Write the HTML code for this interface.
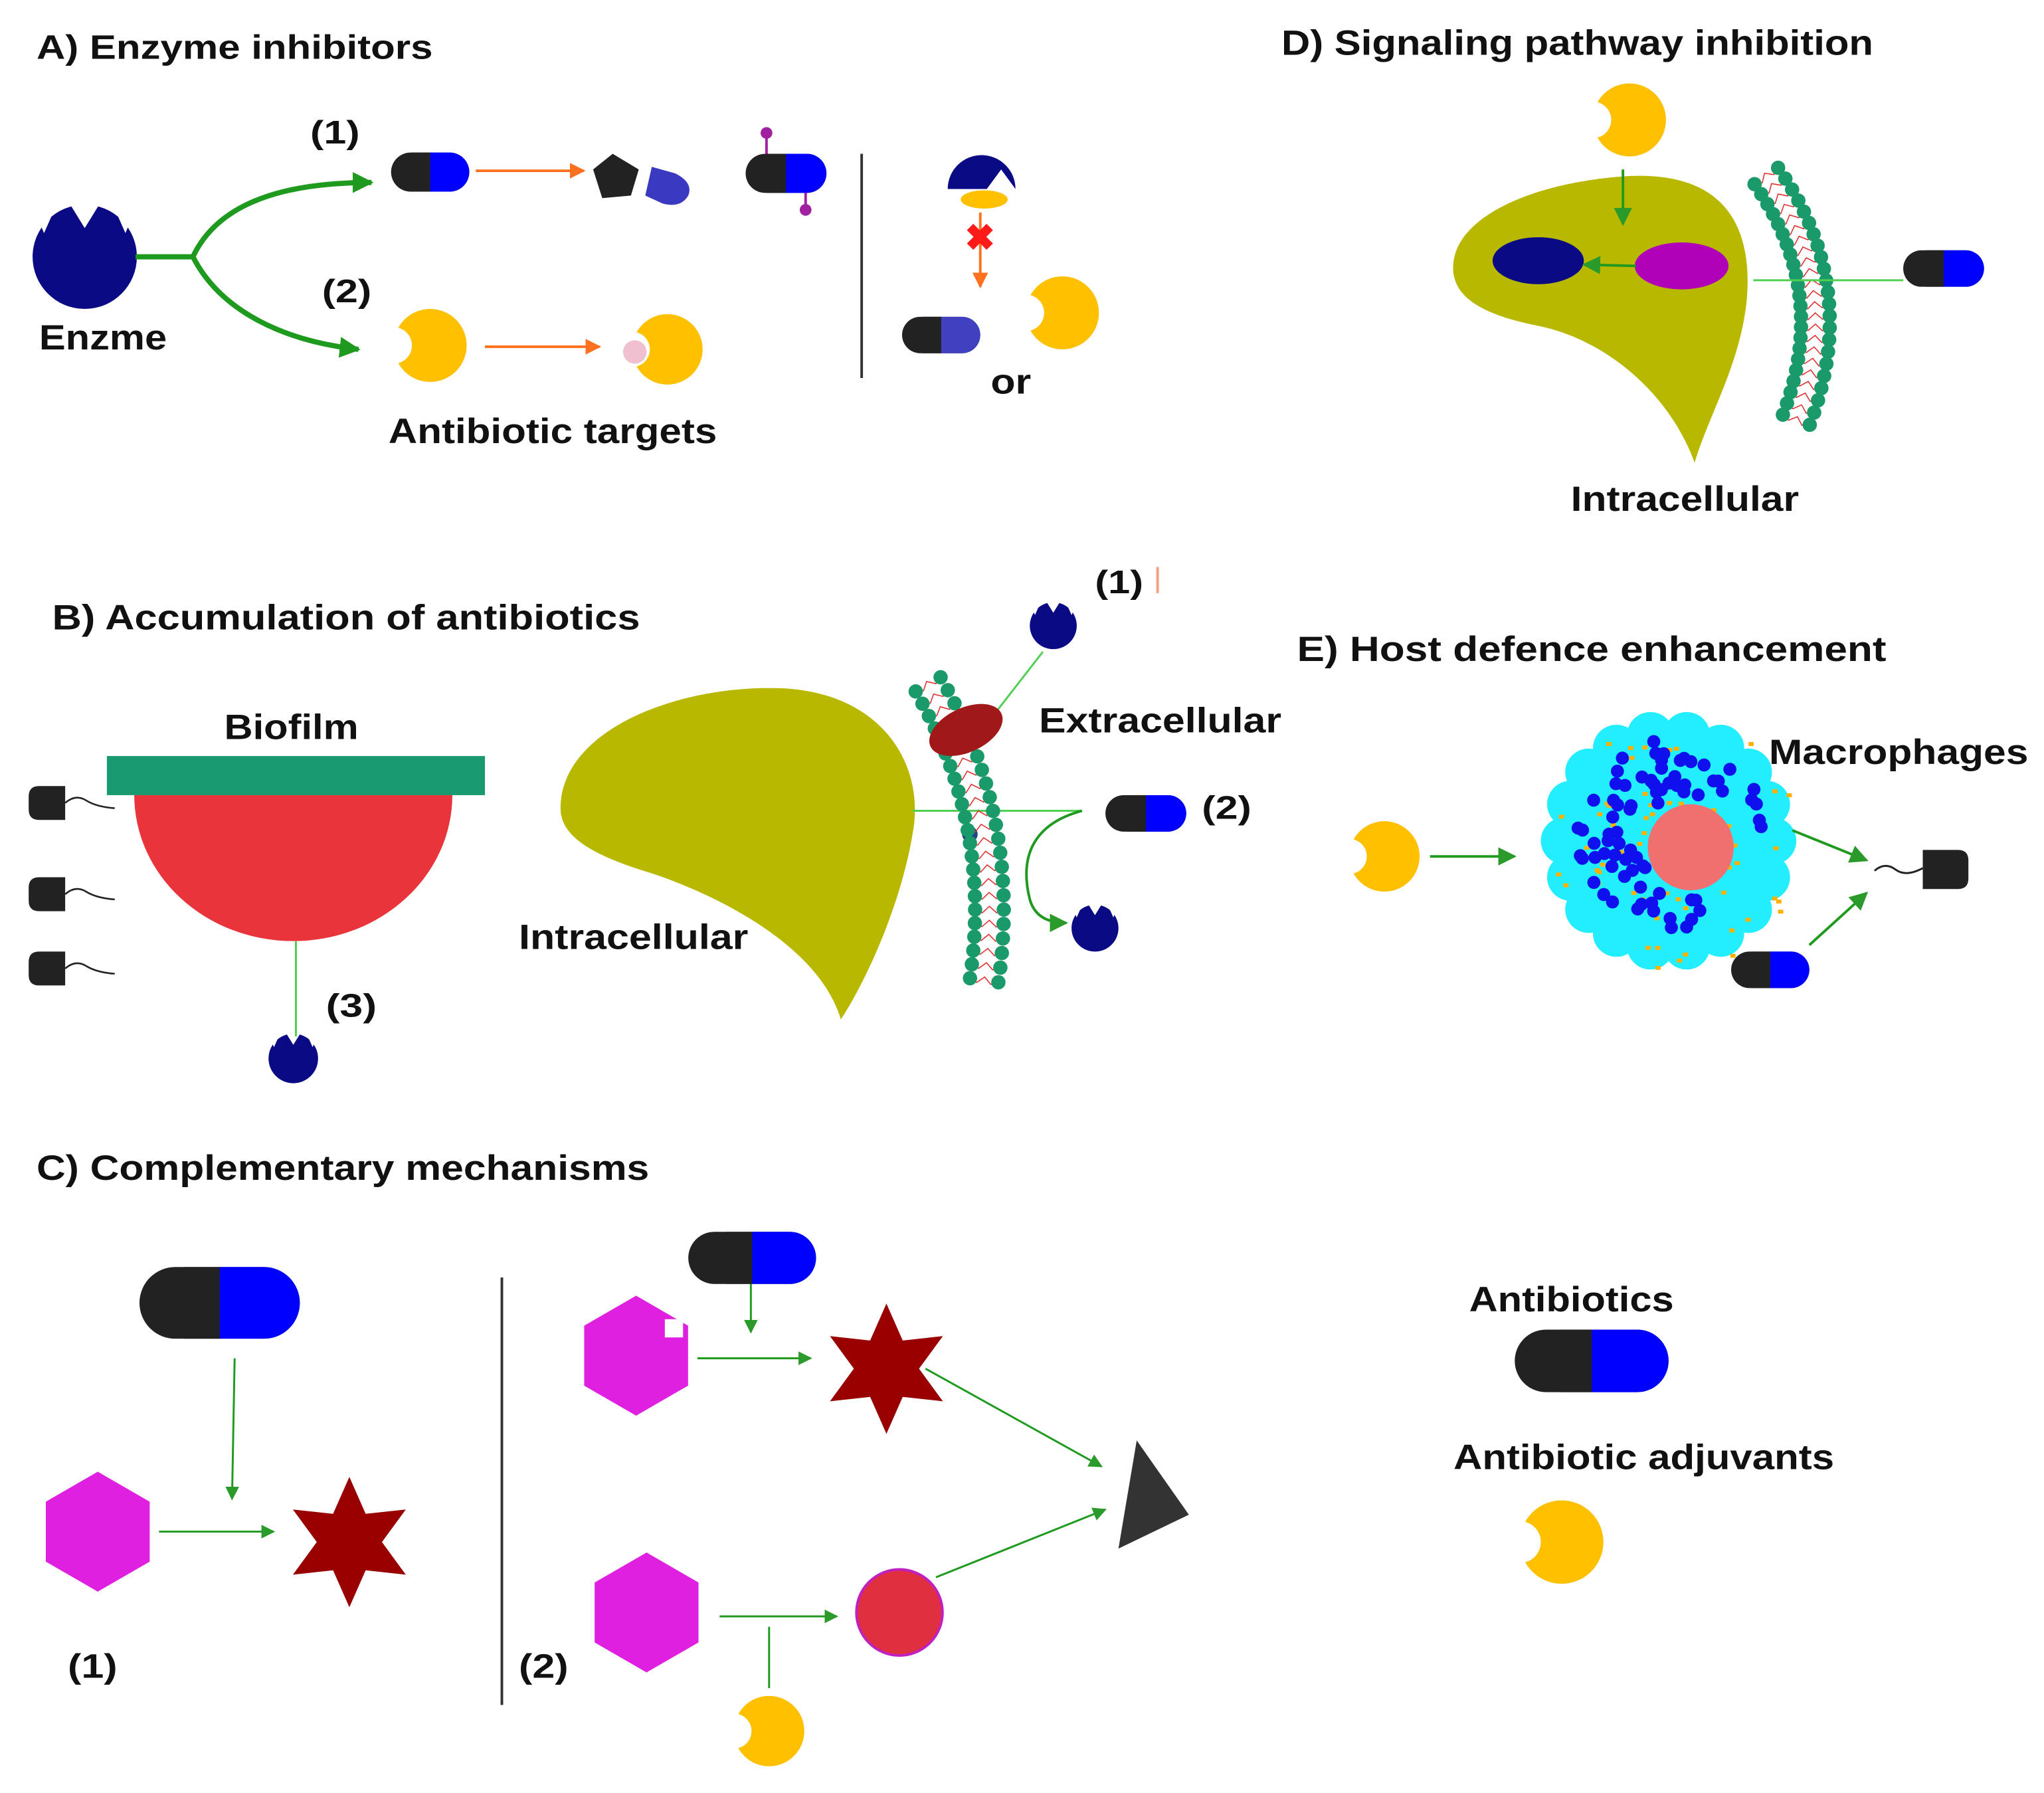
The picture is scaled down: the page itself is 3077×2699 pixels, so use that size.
<!DOCTYPE html>
<html><head><meta charset="utf-8">
<style>
html,body{margin:0;padding:0;background:#fff;}
svg{display:block;}
text{font-family:"Liberation Sans",Arial,sans-serif;font-weight:bold;fill:#111;}
</style></head>
<body>
<svg id="s" width="3077" height="2699" viewBox="0 0 1568 1375.5" preserveAspectRatio="none" xmlns="http://www.w3.org/2000/svg">
<defs>
<marker id="ga" viewBox="0 0 10 10" refX="9" refY="5" markerWidth="7" markerHeight="7" orient="auto"><path d="M0,0L10,5L0,10z" fill="#2a9a2a"/></marker>
<marker id="gA" viewBox="0 0 10 10" refX="9" refY="5" markerWidth="4" markerHeight="4" orient="auto"><path d="M0,0L10,5L0,10z" fill="#1f9a1f"/></marker>
<marker id="oa" viewBox="0 0 10 10" refX="9" refY="5" markerWidth="6" markerHeight="6" orient="auto"><path d="M0,0L10,5L0,10z" fill="#ff7020"/></marker>
</defs>
<rect width="1568" height="1376" fill="#fff"/>
<g id="content"></g>

<!-- ===== A ===== -->
<text x="28" y="45" font-size="26" textLength="304" lengthAdjust="spacingAndGlyphs">A) Enzyme inhibitors</text>
<text x="30" y="268" font-size="27" textLength="98" lengthAdjust="spacingAndGlyphs">Enzme</text>
<path d="M104,197 H148 C170,150 230,140 285,140" stroke="#1e9a1e" stroke-width="4" fill="none" marker-end="url(#gA)"/>
<path d="M148,197 C170,240 220,262 275,268" stroke="#1e9a1e" stroke-width="4" fill="none" marker-end="url(#gA)"/>
<text x="238" y="110" font-size="25" textLength="38" lengthAdjust="spacingAndGlyphs">(1)</text>
<text x="247" y="232" font-size="25" textLength="38" lengthAdjust="spacingAndGlyphs">(2)</text>
<line x1="365" y1="131" x2="448" y2="131" stroke="#ff7020" stroke-width="2" marker-end="url(#oa)"/>
<polygon points="455,130 470,118 490,130 484,150 462,152" fill="#222"/>
<path d="M500,128 L518,133 Q532,140 528,150 Q522,160 508,156 L495,150 Z" fill="#3a3ac0"/>
<line x1="588" y1="103" x2="588" y2="118" stroke="#a020a0" stroke-width="2"/><circle cx="588" cy="102" r="4.5" fill="#a020a0"/>
<line x1="618" y1="148" x2="618" y2="160" stroke="#a020a0" stroke-width="2"/><circle cx="618" cy="161" r="4.5" fill="#a020a0"/>
<line x1="661" y1="118" x2="661" y2="290" stroke="#333" stroke-width="2"/>
<path d="M727,145 A26,26 0 1 1 779,145 Z" fill="#0a0a85"/>
<path d="M757,145 L768,130 L779,145 Z" fill="#fff"/>
<ellipse cx="755" cy="153" rx="18" ry="7" fill="#ffc000"/>
<line x1="752" y1="163" x2="752" y2="220" stroke="#ff7020" stroke-width="2" marker-end="url(#oa)"/>
<text x="740" y="192" font-size="28" style="fill:#ff1a1a">✖</text>
<text x="760" y="302" font-size="27" textLength="31" lengthAdjust="spacingAndGlyphs">or</text>
<line x1="372" y1="266" x2="460" y2="266" stroke="#ff7020" stroke-width="2" marker-end="url(#oa)"/>
<text x="298" y="340" font-size="27" textLength="252" lengthAdjust="spacingAndGlyphs">Antibiotic targets</text>

<!-- ===== D ===== -->
<text x="983" y="42" font-size="27" textLength="454" lengthAdjust="spacingAndGlyphs">D) Signaling pathway inhibition</text>
<path d="M1115,210 C1110,170 1170,140 1250,135 C1320,132 1345,170 1340,230 C1335,280 1310,320 1300,355 C1280,300 1230,260 1180,250 C1140,242 1118,230 1115,210 Z" fill="#b8b800"/>
<line x1="1245" y1="130" x2="1245" y2="172" stroke="#1f9a1f" stroke-width="2" marker-end="url(#ga)"/>
<ellipse cx="1180" cy="200" rx="35" ry="18" fill="#0a0a85"/>
<ellipse cx="1290" cy="204" rx="36" ry="18" fill="#b000b8"/>
<line x1="1255" y1="204" x2="1215" y2="203" stroke="#1f9a1f" stroke-width="2" marker-end="url(#ga)"/>
<line x1="1345" y1="215" x2="1460" y2="215" stroke="#50d050" stroke-width="1.5"/>
<text x="1205" y="392" font-size="27" textLength="175" lengthAdjust="spacingAndGlyphs">Intracellular</text>

<!-- ===== B ===== -->
<text x="40" y="483" font-size="27" textLength="451" lengthAdjust="spacingAndGlyphs">B)  Accumulation of antibiotics</text>
<text x="172" y="567" font-size="27" textLength="103" lengthAdjust="spacingAndGlyphs">Biofilm</text>
<path d="M103,610 A122,112 0 0 0 347,610 Z" fill="#e8343a"/>
<rect x="82" y="580" width="290" height="30" fill="#1a9a70"/>
<line x1="227" y1="722" x2="227" y2="795" stroke="#50d050" stroke-width="1.5"/>
<text x="250" y="780" font-size="25" textLength="39" lengthAdjust="spacingAndGlyphs">(3)</text>
<path d="M430,620 C430,560 520,525 600,528 C680,532 710,590 700,640 C690,700 660,760 645,782 C630,730 560,690 500,670 C450,655 430,640 430,620 Z" fill="#b8b800"/>
<text x="398" y="728" font-size="27" textLength="176" lengthAdjust="spacingAndGlyphs">Intracellular</text>
<line x1="765" y1="545" x2="800" y2="500" stroke="#50d050" stroke-width="1.5"/>
<text x="840" y="455" font-size="25" textLength="37" lengthAdjust="spacingAndGlyphs">(1)</text>
<line x1="888" y1="435" x2="888" y2="455" stroke="#f0a080" stroke-width="2"/>
<text x="797" y="562" font-size="27" textLength="186" lengthAdjust="spacingAndGlyphs">Extracellular</text>
<line x1="700" y1="622" x2="830" y2="622" stroke="#50d050" stroke-width="1.5"/>
<path d="M830,622 C800,630 780,650 790,690 Q795,708 818,708" stroke="#1f9a1f" stroke-width="2" fill="none" marker-end="url(#ga)"/>
<text x="922" y="628" font-size="25" textLength="38" lengthAdjust="spacingAndGlyphs">(2)</text>
<g id="membB"></g>
<ellipse cx="741" cy="560" rx="30" ry="17" fill="#a01818" transform="rotate(-25 741 560)"/>

<!-- ===== E ===== -->
<text x="995" y="507" font-size="27" textLength="452" lengthAdjust="spacingAndGlyphs">E)  Host defence enhancement</text>
<line x1="1097" y1="657" x2="1162" y2="657" stroke="#1f9a1f" stroke-width="2" marker-end="url(#ga)"/>
<g id="macro"></g>
<text x="1357" y="586" font-size="27" textLength="199" lengthAdjust="spacingAndGlyphs">Macrophages</text>
<line x1="1375" y1="637" x2="1432" y2="660" stroke="#1f9a1f" stroke-width="2" marker-end="url(#ga)"/>
<line x1="1388" y1="725" x2="1432" y2="685" stroke="#1f9a1f" stroke-width="2" marker-end="url(#ga)"/>

<!-- ===== C ===== -->
<text x="28" y="905" font-size="27" textLength="470" lengthAdjust="spacingAndGlyphs">C) Complementary mechanisms</text>
<line x1="180" y1="1042" x2="178" y2="1150" stroke="#1f9a1f" stroke-width="1.5" marker-end="url(#ga)"/>
<line x1="122" y1="1175" x2="210" y2="1175" stroke="#1f9a1f" stroke-width="1.5" marker-end="url(#ga)"/>
<text x="52" y="1287" font-size="26" textLength="38" lengthAdjust="spacingAndGlyphs">(1)</text>
<line x1="385" y1="980" x2="385" y2="1308" stroke="#333" stroke-width="2"/>
<text x="398" y="1287" font-size="26" textLength="38" lengthAdjust="spacingAndGlyphs">(2)</text>
<line x1="576" y1="985" x2="576" y2="1022" stroke="#1f9a1f" stroke-width="1.5" marker-end="url(#ga)"/>
<line x1="535" y1="1042" x2="622" y2="1042" stroke="#1f9a1f" stroke-width="1.5" marker-end="url(#ga)"/>
<line x1="710" y1="1050" x2="845" y2="1125" stroke="#1f9a1f" stroke-width="1.5" marker-end="url(#ga)"/>
<polygon points="872,1105 912,1162 858,1188" fill="#333"/>
<line x1="552" y1="1240" x2="642" y2="1240" stroke="#1f9a1f" stroke-width="1.5" marker-end="url(#ga)"/>
<circle cx="690" cy="1237" r="33" fill="#e03040" stroke="#c020c0" stroke-width="2"/>
<line x1="590" y1="1248" x2="590" y2="1295" stroke="#1f9a1f" stroke-width="1.5"/>
<line x1="718" y1="1210" x2="848" y2="1158" stroke="#1f9a1f" stroke-width="1.5" marker-end="url(#ga)"/>

<!-- legend -->
<text x="1127" y="1006" font-size="27" textLength="157" lengthAdjust="spacingAndGlyphs">Antibiotics</text>
<text x="1115" y="1127" font-size="27" textLength="292" lengthAdjust="spacingAndGlyphs">Antibiotic adjuvants</text>

<script>
var NS="http://www.w3.org/2000/svg";
var root=document.getElementById('content');
function el(t,a,p){var e=document.createElementNS(NS,t);for(var k in a)e.setAttribute(k,a[k]);(p||root).appendChild(e);return e;}
function caps(x,y,w,h,blue){var r=h/2,m=x+w/2;blue=blue||"#0000ff";
 el('rect',{x:x,y:y,width:w,height:h,rx:r,fill:"#222"});
 el('rect',{x:m-r,y:y,width:x+w-(m-r),height:h,rx:r,fill:blue});
 el('rect',{x:m-r,y:y,width:r,height:h,fill:"#222"});}
function adj(cx,cy,r){el('circle',{cx:cx,cy:cy,r:r,fill:"#ffc000"});
 el('circle',{cx:cx-r*1.0,cy:cy,r:r*0.5,fill:"#fff"});}
function enz(cx,cy,r){el('circle',{cx:cx,cy:cy,r:r,fill:"#0a0a85"});
 var t=cy-r*0.55, s=r*0.32;
 el('polygon',{points:[cx-r*1.1,cy-r*1.2,cx-r*0.45,cy-r*1.2,cx-r*0.78,t+s*0.3].join(','),fill:'#fff'});
 el('polygon',{points:[cx-r*0.4,cy-r*1.2,cx+r*0.4,cy-r*1.2,cx,t].join(','),fill:'#fff'});
 el('polygon',{points:[cx+r*0.45,cy-r*1.2,cx+r*1.1,cy-r*1.2,cx+r*0.78,t+s*0.3].join(','),fill:'#fff'});}
function star(cx,cy,R){var p=[];for(var i=0;i<12;i++){var a=(-90+i*30)*Math.PI/180,rr=i%2?R*0.5:R;p.push(cx+rr*Math.cos(a),cy+rr*Math.sin(a));}
 el('polygon',{points:p.join(','),fill:"#990000"});}
function hex(cx,cy,r){var p=[];for(var i=0;i<6;i++){var a=(-90+i*60)*Math.PI/180;p.push(cx+r*Math.cos(a),cy+r*Math.sin(a));}
 el('polygon',{points:p.join(','),fill:"#e020e0"});}
// bacterium: body with rounded-left corners at left, tail to right
function bactR(x,y,w,h){
 el('path',{d:'M'+x+','+(y+8)+' q0,-8 8,-8 h'+(w-8)+' v'+h+' h-'+(w-8)+' q-8,0 -8,-8 z',fill:'#222'});
 el('path',{d:'M'+(x+w)+','+(y+h/2)+' q8,-7 16,-2 t22,6',stroke:'#222','stroke-width':1.3,fill:'none'});}
function memb(x0,y0,x1,y1,bow,n,g){
 var mx=(x0+x1)/2,my=(y0+y1)/2,dx=x1-x0,dy=y1-y0,L=Math.hypot(dx,dy),nx=dy/L,ny=-dx/L;
 var cx=mx-nx*bow,cy=my-ny*bow;
 function P(t){var u=1-t;return [u*u*x0+2*u*t*cx+t*t*x1,u*u*y0+2*u*t*cy+t*t*y1];}
 for(var i=0;i<=n;i++){var t=i/n,p=P(t),q=P(Math.min(1,t+0.01)),r=P(Math.max(0,t-0.01));
  var tx=q[0]-r[0],ty=q[1]-r[1],tl=Math.hypot(tx,ty),ux=-ty/tl,uy=tx/tl;
  var a=[p[0]+ux*11,p[1]+uy*11],b=[p[0]-ux*11,p[1]-uy*11];
  var d='M'+a[0]+','+a[1];
  for(var k=1;k<=4;k++){var f=k/4;var xx=a[0]+(b[0]-a[0])*f+(k%2?1:-1)*tx/tl*2.5,yy=a[1]+(b[1]-a[1])*f+(k%2?1:-1)*ty/tl*2.5;d+=' L'+xx+','+yy;}
  el('path',{d:d,stroke:'#e03030','stroke-width':0.8,fill:'none'},g);
  el('circle',{cx:a[0],cy:a[1],r:5.5,fill:'#1a9a6a'},g);
  el('circle',{cx:b[0],cy:b[1],r:5.5,fill:'#1a9a6a'},g);}}
// A
enz(65,197,40);
caps(300,117,60,30);caps(572,118,62,30);caps(692,243,60,28,"#4040c0");
adj(815,240,28);adj(330,265,28);adj(512,268,27);
el('circle',{cx:487,cy:270,r:9,fill:'#f0c0d0'});
// D
adj(1250,92,28);
memb(1355,135,1378,322,-50,22,root);
caps(1460,192,62,28);
// B
[[123,645],[183,645],[225,643],[278,642],[160,667],[207,663],[255,660],[207,698]].forEach(function(p){caps(p[0],p[1],36,16);});
enz(225,812,19);
bactR(22,603,28,26);bactR(22,673,28,26);bactR(22,730,28,26);
caps(560,568,62,28);caps(582,622,62,28);caps(622,671,62,28);
memb(712,525,755,752,-40,22,document.getElementById('membB'));
el('circle',{cx:744,cy:640,r:6,fill:'#224488'});
enz(808,480,18);enz(840,712,18);
caps(848,610,62,28);
// E
adj(1062,657,27);
var m=document.getElementById('macro');
el('circle',{cx:1280,cy:645,r:80,fill:'#22eeff'},m);
for(var i=0;i<18;i++){var a=i*20*Math.PI/180;el('circle',{cx:1280+80*Math.cos(a),cy:645+82*Math.sin(a),r:18,fill:'#22eeff'},m);}
var seed=7;function rnd(){seed=(seed*9301+49297)%233280;return seed/233280;}
for(var i=0;i<70;i++){var a=rnd()*6.283,rr=20+rnd()*80;el('rect',{x:1280+rr*Math.cos(a),y:645+rr*Math.sin(a),width:4,height:3,fill:'#ffb000'},m);}
el('circle',{cx:1297,cy:650,r:33,fill:'#f07070'},m);
for(var i=0;i<60;i++){var a=-1.9+rnd()*3.6+Math.PI,rr=38+rnd()*42;var x=1290+rr*Math.cos(a),y=640+rr*Math.sin(a)*0.95;if(Math.hypot(x-1297,y-650)<38)continue;el('circle',{cx:x,cy:y,r:5,fill:'#1010ee'},m);}
for(var i=0;i<20;i++){var a=-1.2+rnd()*2.2,rr=38+rnd()*30;el('circle',{cx:1297+rr*Math.cos(a-1.2),cy:650+rr*Math.sin(a-1.2),r:5,fill:'#1010ee'},m);}
// E bacterium: body right, tail left
el('path',{d:'M1475,652 h27 q8,0 8,8 v14 q0,8 -8,8 h-27 z',fill:'#222'});
el('path',{d:'M1438,668 q8,-7 16,-1 t21,-1',stroke:'#222','stroke-width':1.5,fill:'none'});
caps(1328,730,60,28);
// C
caps(107,972,123,55);hex(75,1175,46);star(268,1183,50);
caps(528,945,98,40);hex(488,1040,46);
el('rect',{x:510,y:1012,width:14,height:14,fill:'#fff'});
star(680,1050,50);hex(496,1237,46);adj(590,1328,27);
// legend
caps(1162,1020,118,48);adj(1198,1183,32);
</script>
</svg>
</body></html>
